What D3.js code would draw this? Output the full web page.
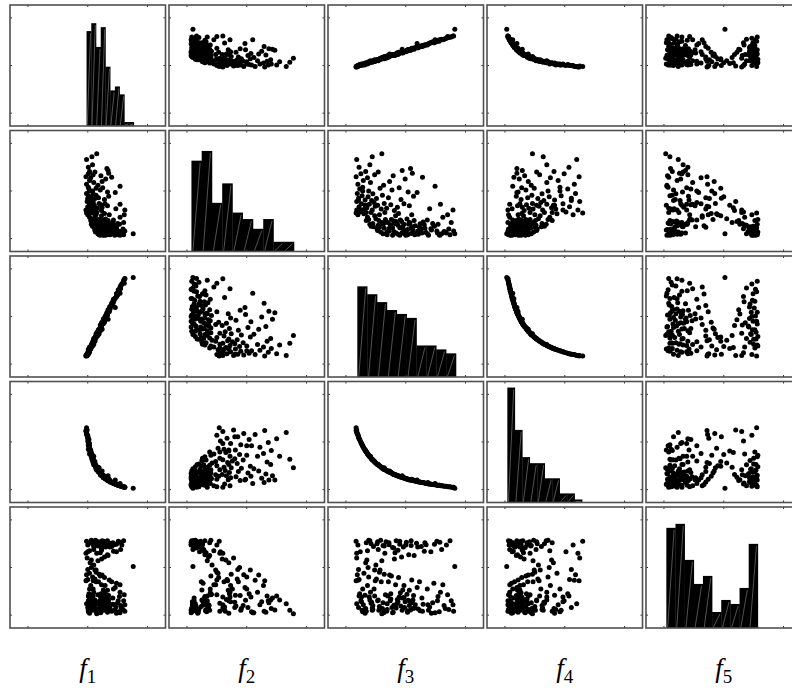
<!DOCTYPE html>
<html>
<head>
<meta charset="utf-8">
<script src="https://cdn.jsdelivr.net/npm/d3@7"></script>
<style>
  body { margin: 0; background: #fff; }
</style>
</head>
<body>
<div class="matrix-container"></div>
<script>
// variable names (subscripts of f)
const varLabels = ['1', '2', '3', '4', '5'];

// sample values, one entry per point (tick units: ticks sit at -1, 0, 1)
const f1 = [
  -0.02, 0.00, 0.00, 0.03, -0.03, 0.00, 0.03, 0.01, 0.04, -0.01, 0.00, 0.01, 0.05, -0.02, 0.02, 0.01, -0.02, 0.03, -0.03, 0.01, 0.03, 0.01, -0.02,
  0.05, 0.06, 0.10, 0.03, 0.08, 0.12, 0.10, 0.06, 0.06, 0.09, 0.09, 0.06, 0.09, 0.09, 0.08, 0.09, 0.10, 0.05, 0.09, 0.08, 0.07,
  0.12, 0.13, 0.17, 0.10, 0.17, 0.13, 0.15, 0.17, 0.14, 0.15, 0.11, 0.14, 0.19, 0.12, 0.14, 0.14, 0.17, 0.12, 0.15,
  0.18, 0.18, 0.23, 0.21, 0.19, 0.20, 0.22, 0.21, 0.21, 0.23, 0.16, 0.22, 0.23, 0.18, 0.21, 0.24, 0.22,
  0.24, 0.26, 0.30, 0.23, 0.28, 0.29, 0.26, 0.27, 0.26, 0.28, 0.24, 0.29, 0.28, 0.25, 0.30, 0.34,
  0.31, 0.33, 0.33, 0.34, 0.32, 0.36, 0.32, 0.37, 0.30, 0.36, 0.33, 0.35, 0.33, 0.35, 0.32,
  0.37, 0.40, 0.43, 0.37, 0.42, 0.40, 0.46, 0.40,
  0.44, 0.48, 0.48, 0.45, 0.50, 0.43, 0.47, 0.54,
  0.51, 0.55, 0.51, 0.55, 0.53, 0.54, 0.54,
  0.57, 0.76, 0.59, 0.60, 0.61, 0.62,
  0.08, 0.08, 0.12, 0.12, 0.17, 0.14, 0.18, 0.19, 0.22, 0.21, 0.23, 0.23, 0.26, 0.27, 0.27, 0.29, 0.29, 0.33, 0.33, 0.33,
  0.35, 0.37, 0.37, 0.40, 0.42, 0.42, 0.45, 0.48, 0.48, 0.51, 0.54, 0.56, 0.60, 0.62, 0.06, 0.04, 0.02, 0.00, 0.03, 0.03
];
const f2 = [
  -0.46, -0.50, -0.44, -0.48, -0.40, -0.33, -0.27, -0.38, -0.30, -0.22, -0.15, -0.10, -0.19, -0.05, 0.04, 0.08, 0.14, 0.22, 0.30, 0.36, 0.41, 0.50, 0.66,
  -0.62, -0.70, -0.75, -0.55, -0.45, -0.52, -0.58, -0.35, -0.28, -0.40, -0.32, -0.12, -0.20, -0.24, 0.00, -0.06, 0.18, 0.28, 0.34, 0.55, 0.72,
  -0.80, -0.86, -0.78, -0.72, -0.66, -0.62, -0.70, -0.60, -0.50, -0.45, -0.30, -0.38, -0.26, -0.16, -0.09, 0.06, 0.12, 0.40, 0.78,
  -0.90, -0.84, -0.77, -0.68, -0.92, -0.74, -0.63, -0.66, -0.60, -0.52, -0.36, -0.29, -0.41, -0.14, 0.02, 0.20, 0.32,
  -0.88, -0.93, -0.81, -0.72, -0.64, -0.90, -0.69, -0.61, -0.75, -0.47, -0.34, -0.27, -0.18, 0.07, 0.25, 0.43,
  -0.86, -0.78, -0.70, -0.62, -0.92, -0.83, -0.67, -0.73, -0.59, -0.50, -0.31, -0.11, -0.02, 0.37, 0.47,
  -0.89, -0.80, -0.71, -0.91, -0.65, -0.76, -0.03, 0.29,
  -0.87, -0.79, -0.73, -0.93, -0.68, -0.61, -0.37, 0.10,
  -0.84, -0.90, -0.92, -0.85, -0.70, -0.55, -0.28,
  -0.88, -0.90, -0.80, -0.66, -0.50, -0.40,
  -0.74, -0.68, -0.83, -0.76, -0.90, -0.67, -0.86, -0.79, -0.71, -0.93, -0.85, -0.64, -0.91, -0.77, -0.87, -0.70, -0.93, -0.81, -0.66, -0.89,
  -0.75, -0.92, -0.84, -0.69, -0.88, -0.78, -0.91, -0.82, -0.74, -0.88, -0.93, -0.86, -0.92, -0.84, -0.60, -0.45, -0.40, -0.20, 0.00, -0.30
];
const f3 = [
  -0.83, -0.80, -0.76, -0.70, -0.82, -0.78, -0.74, -0.69, -0.67, -0.82, -0.79, -0.73, -0.68, -0.81, -0.77, -0.72, -0.80, -0.71, -0.83, -0.75, -0.67, -0.78, -0.82,
  -0.66, -0.60, -0.54, -0.64, -0.58, -0.52, -0.50, -0.65, -0.61, -0.56, -0.51, -0.63, -0.57, -0.53, -0.62, -0.55, -0.59, -0.64, -0.52, -0.60, -0.56,
  -0.48, -0.42, -0.36, -0.46, -0.40, -0.45, -0.38, -0.34, -0.44, -0.35, -0.47, -0.41, -0.36, -0.49, -0.39, -0.43, -0.37, -0.46, -0.40,
  -0.33, -0.28, -0.22, -0.18, -0.31, -0.26, -0.20, -0.30, -0.24, -0.17, -0.32, -0.25, -0.19, -0.29, -0.23, -0.27, -0.21,
  -0.16, -0.10, -0.04, -0.13, -0.07, -0.02, -0.15, -0.09, -0.05, -0.12, -0.14, -0.03, -0.08, -0.11, -0.01, -0.06,
  0.01, 0.09, 0.05, 0.14, 0.03, 0.12, 0.07, 0.16, 0.02, 0.10, 0.06, 0.13, 0.04, 0.11, 0.08,
  0.18, 0.26, 0.31, 0.21, 0.29, 0.23, 0.19, 0.28,
  0.34, 0.42, 0.47, 0.38, 0.45, 0.36, 0.40, 0.49,
  0.52, 0.60, 0.56, 0.64, 0.54, 0.62, 0.58,
  0.68, 0.82, 0.72, 0.76, 0.70, 0.79,
  -0.58, -0.55, -0.47, -0.44, -0.38, -0.36, -0.31, -0.28, -0.25, -0.22, -0.20, -0.16, -0.13, -0.10, -0.06, -0.03, 0.00, 0.03, 0.06, 0.09,
  0.12, 0.15, 0.20, 0.24, 0.27, 0.32, 0.37, 0.43, 0.48, 0.53, 0.57, 0.66, 0.74, 0.80, -0.62, -0.66, -0.74, -0.79, -0.72, -0.68
];
const f4 = [
  0.30, 0.14, 0.02, -0.13, 0.22, 0.08, -0.03, -0.15, -0.19, 0.25, 0.11, -0.06, -0.17, 0.18, 0.05, -0.08, 0.16, -0.11, 0.24, -0.01, -0.18, 0.07, 0.20,
  -0.21, -0.31, -0.39, -0.25, -0.34, -0.41, -0.44, -0.22, -0.30, -0.37, -0.43, -0.26, -0.35, -0.40, -0.28, -0.38, -0.30, -0.24, -0.42, -0.30, -0.36,
  -0.46, -0.52, -0.57, -0.48, -0.53, -0.49, -0.56, -0.58, -0.50, -0.58, -0.47, -0.53, -0.54, -0.45, -0.55, -0.51, -0.56, -0.47, -0.54,
  -0.59, -0.63, -0.66, -0.69, -0.61, -0.64, -0.68, -0.61, -0.65, -0.69, -0.60, -0.64, -0.68, -0.62, -0.65, -0.61, -0.67,
  -0.70, -0.73, -0.75, -0.71, -0.74, -0.76, -0.70, -0.73, -0.75, -0.72, -0.71, -0.75, -0.73, -0.72, -0.76, -0.71,
  -0.77, -0.80, -0.79, -0.81, -0.78, -0.81, -0.79, -0.82, -0.77, -0.78, -0.79, -0.81, -0.78, -0.80, -0.80,
  -0.83, -0.85, -0.86, -0.84, -0.85, -0.84, -0.80, -0.85,
  -0.87, -0.88, -0.89, -0.88, -0.89, -0.87, -0.88, -0.87,
  -0.91, -0.92, -0.91, -0.93, -0.91, -0.92, -0.92,
  -0.93, -0.97, -0.94, -0.95, -0.94, -0.95,
  -0.34, -0.38, -0.47, -0.50, -0.56, -0.57, -0.61, -0.63, -0.63, -0.66, -0.68, -0.70, -0.71, -0.73, -0.74, -0.75, -0.77, -0.78, -0.79, -0.80,
  -0.79, -0.82, -0.83, -0.84, -0.85, -0.86, -0.85, -0.89, -0.90, -0.91, -0.91, -0.93, -0.94, -0.95, -0.28, -0.21, -0.03, 0.11, -0.08, -0.17
];
const f5 = [
  0.55, 0.47, 0.33, -0.12, 0.30, -0.25, -0.72, -0.88, 0.10, 0.20, -0.04, -0.90, -0.58, -0.15, -0.55, -0.93, -0.27, -0.78, -0.28, -0.70, -0.86, -0.60, -0.76,
  0.52, 0.56, 0.44, 0.35, -0.75, -0.05, 0.05, 0.16, -0.62, -0.85, -0.28, 0.00, -0.73, -0.45, -0.20, -0.80, -0.52, -0.38, -0.60, -0.68, -0.90,
  0.50, 0.57, 0.45, 0.38, 0.14, -0.90, -0.74, -0.57, -0.10, 0.30, -0.70, -0.30, -0.14, -0.24, -0.86, -0.05, -0.95, -0.68, -0.97,
  0.54, 0.48, 0.42, 0.31, -0.88, -0.70, -0.79, -0.60, -0.18, -0.36, -0.92, -0.55, 0.18, -0.30, -0.84, -0.16, -0.94,
  0.56, 0.49, 0.43, 0.36, 0.22, -0.84, -0.76, -0.53, -0.47, -0.21, -0.67, -0.38, -0.81, -0.62, -0.72, -0.64,
  0.53, 0.46, 0.27, 0.25, -0.91, -0.86, -0.71, -0.78, -0.56, -0.26, -0.48, -0.59, -0.69, -0.74, -0.89,
  0.51, 0.44, 0.34, -0.87, -0.77, -0.30, -0.42, -0.92,
  0.48, 0.33, -0.33, -0.90, -0.74, -0.45, -0.83, -0.95,
  0.55, 0.38, -0.93, -0.80, -0.61, -0.36, -0.52,
  0.47, 0.02, -0.88, -0.70, -0.57, -0.78,
  0.50, -0.88, 0.54, -0.82, 0.46, -0.93, -0.76, 0.52, -0.66, -0.95, 0.41, -0.85, -0.72, 0.55, -0.90, -0.63, 0.47, -0.94, -0.80, 0.56,
  -0.68, -0.85, 0.43, -0.91, -0.64, 0.52, -0.78, -0.96, 0.49, -0.70, 0.53, -0.86, 0.56, -0.92, 0.57, -0.92, -0.62, -0.84, -0.45, -0.96
];

// histogram on the diagonal: 10 bins between lo and hi, counts
const histRange = [[-0.02, 0.77], [-0.925, 0.79], [-0.81, 0.84], [-0.96, 0.29], [-0.96, 0.57]];
const histCounts = [
  [24, 26, 20, 25, 15, 9, 10, 8, 1, 1],
  [28, 31, 15, 21, 12, 10, 7, 10, 3, 3],
  [23, 21, 19, 17, 16, 15, 8, 8, 7, 6],
  [38, 24, 15, 13, 13, 8, 8, 3, 3, 1],
  [25, 26, 17, 11, 13, 4, 7, 6, 10, 21]
];
const histTop = [30.6, 37.3, 30.7, 40, 30.2];
const tickValues = [-1, 0, 1];

const vars = [f1, f2, f3, f4, f5];
const n = vars.length;

// layout
const marginLeft = 10, marginTop = 5;
const pitchX = 159, pitchY = 125.5;
const panelW = 155.5, panelH = 121;

const svg = d3.select('.matrix-container')
    .append('svg')
    .attr('width', 792)
    .attr('height', 688);

const x = d3.scaleLinear().domain([-1.3, 1.3]).range([0, panelW]);
const y = d3.scaleLinear().domain([-1.27, 1.27]).range([panelH, 0]);

for (let i = 0; i < n; i++) {
    for (let j = 0; j < n; j++) {
        const g = svg.append('g')
            .attr('transform', `translate(${marginLeft + j * pitchX}, ${marginTop + i * pitchY})`);

        g.append('rect')
            .attr('width', panelW)
            .attr('height', panelH)
            .attr('fill', '#fff');

        if (i === j) {
            // histogram
            const [lo, hi] = histRange[i];
            const w = (hi - lo) / histCounts[i].length;
            const yh = d3.scaleLinear().domain([0, histTop[i]]).range([panelH, 0]);
            const bars = histCounts[i].map((c, k) => ({ x0: lo + k * w, x1: lo + (k + 1) * w, c }));

            g.selectAll('rect.bar')
                .data(bars)
                .enter()
                .append('rect')
                .attr('class', 'bar')
                .attr('x', d => x(d.x0))
                .attr('width', d => x(d.x1) - x(d.x0) + 0.3)
                .attr('y', d => yh(d.c))
                .attr('height', d => panelH - yh(d.c))
                .attr('fill', '#000');

            // faint slanted edge lines inside each bar
            g.selectAll('line.hatch')
                .data(bars.filter(d => d.c > 0))
                .enter()
                .append('line')
                .attr('class', 'hatch')
                .attr('x1', d => x(d.x0) + (x(d.x1) - x(d.x0)) * 0.15)
                .attr('y1', panelH - 1)
                .attr('x2', d => x(d.x0) + (x(d.x1) - x(d.x0)) * 0.85)
                .attr('y2', d => yh(d.c) + 2)
                .attr('stroke', '#8a8a8a')
                .attr('stroke-width', 0.6);
        } else {
            // scatter of vars[i] (vertical) against vars[j] (horizontal)
            const xs = vars[j], ys = vars[i];
            g.selectAll('circle')
                .data(d3.range(xs.length))
                .enter()
                .append('circle')
                .attr('cx', k => x(xs[k]))
                .attr('cy', k => y(ys[k]))
                .attr('r', 2.5)
                .attr('fill', '#000');
        }

        // tick marks on all four sides, pointing inward
        const tk = 2;
        tickValues.forEach(v => {
            g.append('line').attr('x1', x(v)).attr('x2', x(v)).attr('y1', panelH).attr('y2', panelH - tk)
                .attr('stroke', '#333').attr('stroke-width', 1);
            g.append('line').attr('x1', x(v)).attr('x2', x(v)).attr('y1', 0).attr('y2', tk)
                .attr('stroke', '#333').attr('stroke-width', 1);
            g.append('line').attr('x1', 0).attr('x2', tk).attr('y1', y(v)).attr('y2', y(v))
                .attr('stroke', '#333').attr('stroke-width', 1);
            g.append('line').attr('x1', panelW).attr('x2', panelW - tk).attr('y1', y(v)).attr('y2', y(v))
                .attr('stroke', '#333').attr('stroke-width', 1);
        });

        // panel border
        g.append('rect')
            .attr('width', panelW)
            .attr('height', panelH)
            .attr('fill', 'none')
            .attr('stroke', '#505050')
            .attr('stroke-width', 1.6);
    }
}

// variable labels under the bottom row
varLabels.forEach((s, j) => {
    const t = svg.append('text')
        .attr('x', marginLeft + j * pitchX + panelW / 2)
        .attr('y', 677)
        .attr('text-anchor', 'middle')
        .style('font-family', '"Liberation Serif", "DejaVu Serif", serif')
        .style('font-size', '27px');
    t.append('tspan').style('font-style', 'italic').text('f');
    t.append('tspan').attr('dy', 6).style('font-size', '19px').text(s);
});
</script>
</body>
</html>
